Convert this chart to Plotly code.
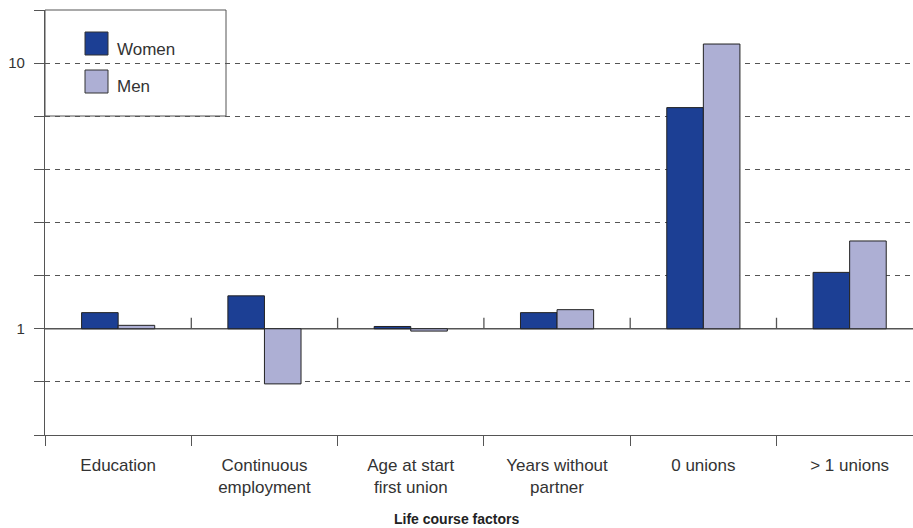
import math
import plotly.graph_objects as go

# Relative risk by life course factor (log scale, reference = 1)
categories = ["Education", "Continuous<br>employment", "Age at start<br>first union",
              "Years without<br>partner", "0 unions", "> 1 unions"]
women = [1.15, 1.33, 1.02, 1.15, 6.8, 1.63]
men = [1.03, 0.62, 0.98, 1.18, 11.8, 2.14]
series_names = ["Women", "Men"]
series_colors = ["#1C3F94", "#ADAFD4"]

grid_exps = [-0.2, 0.0, 0.2, 0.4, 0.6, 0.8, 1.0]
grid_vals = [10 ** e for e in grid_exps]
grid_text = ["", "1", "", "", "", "", "10"]
edge_vals = [10 ** -0.4, 10 ** 1.2]

FONT = "Liberation Sans, Arial, sans-serif"
AXIS = "#555555"
Y_LO, Y_HI = -0.4, 1.2
PLOT_H = 425

fig = go.Figure()
for name, vals, col in zip(series_names, [women, men], series_colors):
    fig.add_trace(go.Bar(
        name=name, x=categories, y=[v - 1 for v in vals], base=1,
        marker=dict(color=col, line=dict(color="#222222", width=1)),
        showlegend=False,
    ))

shapes = []
# solid reference line at 1 (paper fraction of the log range)
ref_p = (math.log10(1) - Y_LO) / (Y_HI - Y_LO)
shapes.append(dict(type="line", xref="paper", yref="paper", x0=0, x1=1, y0=ref_p, y1=ref_p,
                   line=dict(color=AXIS, width=1.3), layer="between"))
# small upward ticks on the reference line at category boundaries
for b in [0.5, 1.5, 2.5, 3.5, 4.5]:
    shapes.append(dict(type="line", xref="x", yref="paper",
                       x0=b, x1=b, y0=ref_p, y1=ref_p + 11 / PLOT_H,
                       line=dict(color=AXIS, width=1.3), layer="between"))
# legend box
shapes.append(dict(type="rect", xref="paper", yref="paper",
                   x0=0, x1=(226 - 45) / 868, y0=(435 - 116) / PLOT_H, y1=1,
                   fillcolor="white", line=dict(color=AXIS, width=1), layer="between"))
# legend swatches
sw_x0, sw_x1 = (85 - 45) / 868, (108 - 45) / 868
for (top, bot), col in zip([(32, 55), (70, 93)], series_colors):
    shapes.append(dict(type="rect", xref="paper", yref="paper",
                       x0=sw_x0, x1=sw_x1, y0=(435 - bot) / PLOT_H, y1=(435 - top) / PLOT_H,
                       fillcolor=col, line=dict(color="#333333", width=1), layer="above"))

annotations = []
for name, cy in zip(series_names, [49, 87]):
    annotations.append(dict(text=name, xref="paper", yref="paper",
                            x=(115 - 45) / 868, y=(435 - cy) / PLOT_H,
                            xanchor="left", yanchor="middle", showarrow=False,
                            font=dict(family=FONT, size=17, color="#333333")))
annotations.append(dict(text="<b>Life course factors</b>", xref="paper", yref="paper",
                        x=(456.5 - 45) / 868, y=(435 - 519) / PLOT_H,
                        xanchor="center", yanchor="middle", showarrow=False,
                        font=dict(family=FONT, size=14, color="#222222")))

fig.update_layout(
    width=913, height=528,
    margin=dict(l=45, r=0, t=10, b=93),
    paper_bgcolor="white", plot_bgcolor="white",
    barmode="group", bargap=0.5, bargroupgap=0,
    shapes=shapes, annotations=annotations,
    font=dict(family=FONT, color="#333333"),
    xaxis=dict(
        range=[-0.5, -0.5 + 868 / 146.3],
        showline=True, linecolor=AXIS, linewidth=1.3,
        ticks="outside", tickson="boundaries", ticklen=10, tickcolor=AXIS, tickwidth=1.3,
        ticklabelstandoff=14,
        showgrid=False, tickfont=dict(size=17, color="#333333"),
    ),
    yaxis=dict(
        type="log", range=[Y_LO, Y_HI],
        showline=True, linecolor=AXIS, linewidth=1.3,
        tickmode="array", tickvals=grid_vals, ticktext=grid_text,
        ticks="outside", ticklen=10, tickcolor=AXIS, tickwidth=1.3,
        ticklabelstandoff=6,
        showgrid=True, gridcolor="#555555", griddash="5px,5px", gridwidth=1,
        tickfont=dict(size=15, color="#333333"),
        minor=dict(tickmode="array", tickvals=edge_vals, ticks="outside", ticklen=10,
                   tickcolor=AXIS, tickwidth=1.3, showgrid=False),
        zeroline=False,
    ),
)

fig.write_html("out.html")
